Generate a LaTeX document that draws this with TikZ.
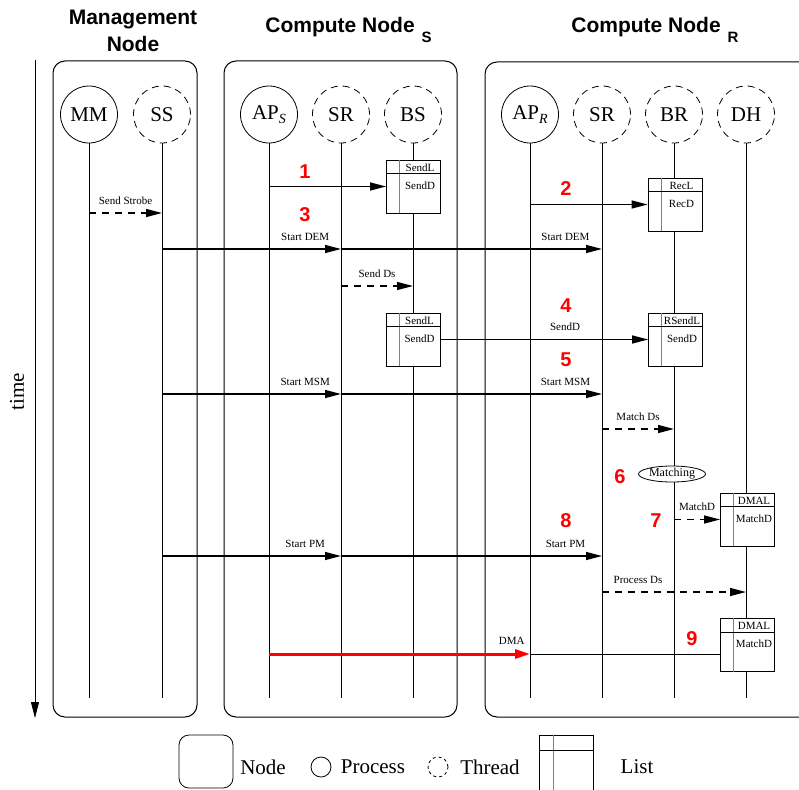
\documentclass[tikz,border=0pt]{standalone}
\usepackage{fontspec}
\setmainfont{Liberation Serif}
\newfontfamily\helv{Liberation Sans}
\usetikzlibrary{arrows.meta,shapes.geometric}
\newcommand{\lowsub}[1]{\raisebox{-4.5pt}{\fontsize{14}{14}\selectfont\itshape #1}}

\begin{document}
\begin{tikzpicture}[x=1pt,y=-1pt,line width=0.8pt]
                \tikzstyle{process}=[circle,draw=black,fill=white,minimum size=57pt,inner sep=0pt,font=\fontsize{21}{21}\selectfont]
                \tikzstyle{thread}=[process,dash pattern=on 7pt off 5pt]
                \tikzstyle{listbox}=[rectangle,draw=black,fill=white,minimum width=54pt,minimum height=53pt,inner sep=0pt]
                \tikzstyle{msg}=[line width=1.4pt,-{Triangle[length=16pt,width=8pt]}]
                \tikzstyle{dmsg}=[msg,dash pattern=on 7pt off 6pt]
                \tikzstyle{lbl}=[font=\fontsize{11}{11}\selectfont,inner sep=0pt,text depth=0pt,above=8pt]
                \tikzstyle{num}=[text=red,font=\helv\bfseries\fontsize{20}{20}\selectfont]
                \tikzstyle{title}=[font=\helv\bfseries\fontsize{21}{27}\selectfont]
                \tikzstyle{legend}=[font=\fontsize{21}{21}\selectfont]

                \useasboundingbox (0,0) rectangle (799,789);

                % time axis
                \coordinate (t0) at (35,60);
                \coordinate (t1) at (35,718);
                \draw[-{Triangle[length=16pt,width=8pt]}] (t0) -- (t1);
                \node[legend,rotate=90] (time) at (17,392) {time};

                % machines
                \draw[rounded corners=12pt,line width=1pt] (53,61) rectangle (197,717);
                \draw[rounded corners=12pt,line width=1pt] (224,61) rectangle (457,717);
                \draw[rounded corners=12pt,line width=1pt] (485,62) rectangle (830,717);
                \node[title,align=center] (T-M) at (133,31) {Management\\Node};
                \node[title,anchor=base west,inner sep=0pt] (T-S) at (265,33) {Compute Node\hspace{7pt}\raisebox{-10pt}{\fontsize{15}{15}\selectfont S}};
                \node[title,anchor=base west,inner sep=0pt] (T-R) at (571,33) {Compute Node\hspace{7pt}\raisebox{-10pt}{\fontsize{15}{15}\selectfont R}};

                % processes and threads
                \foreach \nm/\x/\txt in {MM/89/MM, APS/269/AP\lowsub{S}, APR/530/AP\lowsub{R}}
                    \node[process] (\nm) at (\x,114.5) {\txt};
                \foreach \nm/\x/\txt in {SS/162/SS, SRS/341/SR, BS/413/BS, SRR/602/SR, BR/674/BR, DH/746/DH}
                    \node[thread] (\nm) at (\x,114.5) {\txt};

                \coordinate (bot) at (0,698);
                \foreach \nm in {MM,SS,APS,SRS,BS,APR,SRR,BR,DH}
                    \draw (\nm) -- (\nm |- bot);

                % lists
                \foreach \n/\x/\y/\hd/\bd in {1/413.5/186.5/SendL/SendD, 2/675/204.5/RecL/RecD, 3/413/339.5/SendL/SendD,
                                             4/675.5/339.5/RSendL/SendD, 5/747.5/519.5/DMAL/MatchD, 6/747.5/645/DMAL/MatchD}{
                    \node[listbox] (L-\n) at (\x,\y) {};
                    \draw[gray] ([xshift=13.5pt]L-\n.north west) -- ([xshift=13.5pt]L-\n.south west);
                    \draw ([yshift=-14pt]L-\n.north west) -- ([yshift=-14pt]L-\n.north east);
                    \node[font=\fontsize{11}{11}\selectfont] (L-\n-h) at ([xshift=6.5pt,yshift=-8pt]L-\n.north) {\hd};
                    \node[font=\fontsize{11}{11}\selectfont] (L-\n-b) at ([xshift=6.5pt,yshift=-26pt]L-\n.north) {\bd};
                }

                % messages
                \draw[msg] (APS |- L-1.west) -- (L-1.west);
                \draw[msg] (APR |- L-2.west) -- (L-2.west);
                \coordinate (r-strobe) at (0,213);
                \draw[dmsg] (MM |- r-strobe) -- node[lbl] {Send Strobe} (SS |- r-strobe);
                \foreach \r/\y/\txt in {dem/249/Start DEM, msm/394/Start MSM, pm/556/Start PM}{
                    \coordinate (r-\r) at (0,\y);
                    \draw[msg] (SS |- r-\r) -- node[lbl,pos=0.8] {\txt} (SRS |- r-\r);
                    \draw[msg] (SRS |- r-\r) -- node[lbl,pos=0.86] {\txt} (SRR |- r-\r);
                }
                \coordinate (r-sendds) at (0,286);
                \draw[dmsg] (SRS |- r-sendds) -- node[lbl] {Send Ds} (BS |- r-sendds);
                \draw[msg] (L-3.east) -- node[lbl,pos=0.6] {SendD} (L-4.west);
                \coordinate (r-matchds) at (0,429);
                \draw[dmsg] (SRR |- r-matchds) -- node[lbl] {Match Ds} (BR |- r-matchds);
                \node[ellipse,draw,fill=white,minimum width=67pt,minimum height=16pt,inner sep=0pt,font=\fontsize{12}{12}\selectfont] (match) at (672,474) {Matching};
                \draw[dmsg] (BR |- L-5.west) -- node[lbl] {MatchD} (L-5.west);
                \coordinate (r-process) at (0,592);
                \draw[dmsg] (SRR |- r-process) -- node[lbl,pos=0.25] {Process Ds} (DH |- r-process);
                \coordinate (r-dma) at (0,654);
                \draw[line width=3pt,red,-{Triangle[length=15pt,width=9pt]}] (APS |- r-dma) -- node[lbl,pos=0.93,text=black] {DMA} (APR |- r-dma);
                \draw (APR |- r-dma) -- (L-6.west |- r-dma);

                % steps
                \foreach \n/\x/\y in {1/305/172, 2/566/189, 3/305/215, 4/566/306, 5/566/360, 6/620/477, 7/656/521, 8/566/521, 9/692/639}
                    \node[num] (N-\n) at (\x,\y) {\n};

                % legend
                \draw[rounded corners=10pt] (179,735) rectangle (233,788);
                \node[legend] (lg-node) at (263,767) {Node};
                \node[process,minimum size=20pt] (lg-proc) at (321,767) {};
                \node[legend] (lg-ptxt) at (373,767) {Process};
                \node[thread,minimum size=20pt,dash pattern=on 3pt off 3pt] (lg-thr) at (438,767) {};
                \node[legend] (lg-ttxt) at (490,767) {Thread};
                \node[listbox,minimum height=60pt,anchor=north west] (lg-list) at (539,735) {};
                \draw[gray] ([xshift=14pt]lg-list.north west) -- ([xshift=14pt]lg-list.south west);
                \draw ([yshift=-15pt]lg-list.north west) -- ([yshift=-15pt]lg-list.north east);
                \node[legend] (lg-ltxt) at (637,767) {List};
            \end{tikzpicture}
\end{document}
